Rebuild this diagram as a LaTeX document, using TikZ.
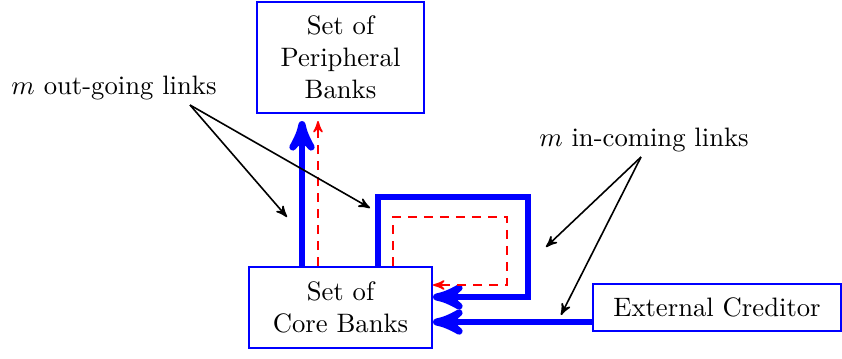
\documentclass[tikz,border=0pt]{standalone}
\usepackage{amssymb}
\usepackage{tikz}
\usetikzlibrary{arrows,positioning,calc}

\begin{document}
\begin{tikzpicture}[x=0.375pt, y=-0.375pt,
		bank/.style={draw=blue, thick, align=center, inner sep=0pt},
		flow/.style={draw=blue, line width=2.6pt, -stealth'},
		share/.style={draw=red, semithick, dash pattern=on 3.5pt off 2.5pt, -stealth'},
		pointer/.style={semithick, -stealth'}]
		\useasboundingbox (0,0) rectangle (842,358);
		\node[bank, minimum width=62.6pt, minimum height=41.6pt] (peri) at (340.5,57.5) {Set of\\Peripheral\\Banks};
		\node[bank, minimum width=68.6pt, minimum height=30.3pt] (core) at (340.5,307.5) {Set of\\Core Banks};
		\node[bank, minimum width=92.9pt, minimum height=17.6pt] (ext) at (717,307.5) {External Creditor};
		\node (outl) at (114,88) {$m$ out-going links};
		\node (inl) at (644,140) {$m$ in-coming links};
		% links between the two sets
		\coordinate (up1) at (302,121);
		\coordinate (up2) at (318,121);
		\draw[flow] (core.north -| up1) -- (up1);
		\draw[share] (core.north -| up2) -- (up2);
		\draw[flow] (core.north -| 378,0) -- (378,197) -- (528,197) -- (528,297) -- (core.east |- 0,297);
		\draw[share] (core.north -| 393,0) -- (393,217) -- (507,217) -- (507,285) -- (core.east |- 0,285);
		\draw[flow] (ext.west |- 0,322) -- (core.east |- 0,322);
		% labels
		\coordinate (o) at (190,105);
		\coordinate (i) at (641,157);
		\draw[pointer] (o) -- (287,217);
		\draw[pointer] (o) -- (370,208);
		\draw[pointer] (i) -- (546,247);
		\draw[pointer] (i) -- (561,315);
	\end{tikzpicture}
\end{document}
